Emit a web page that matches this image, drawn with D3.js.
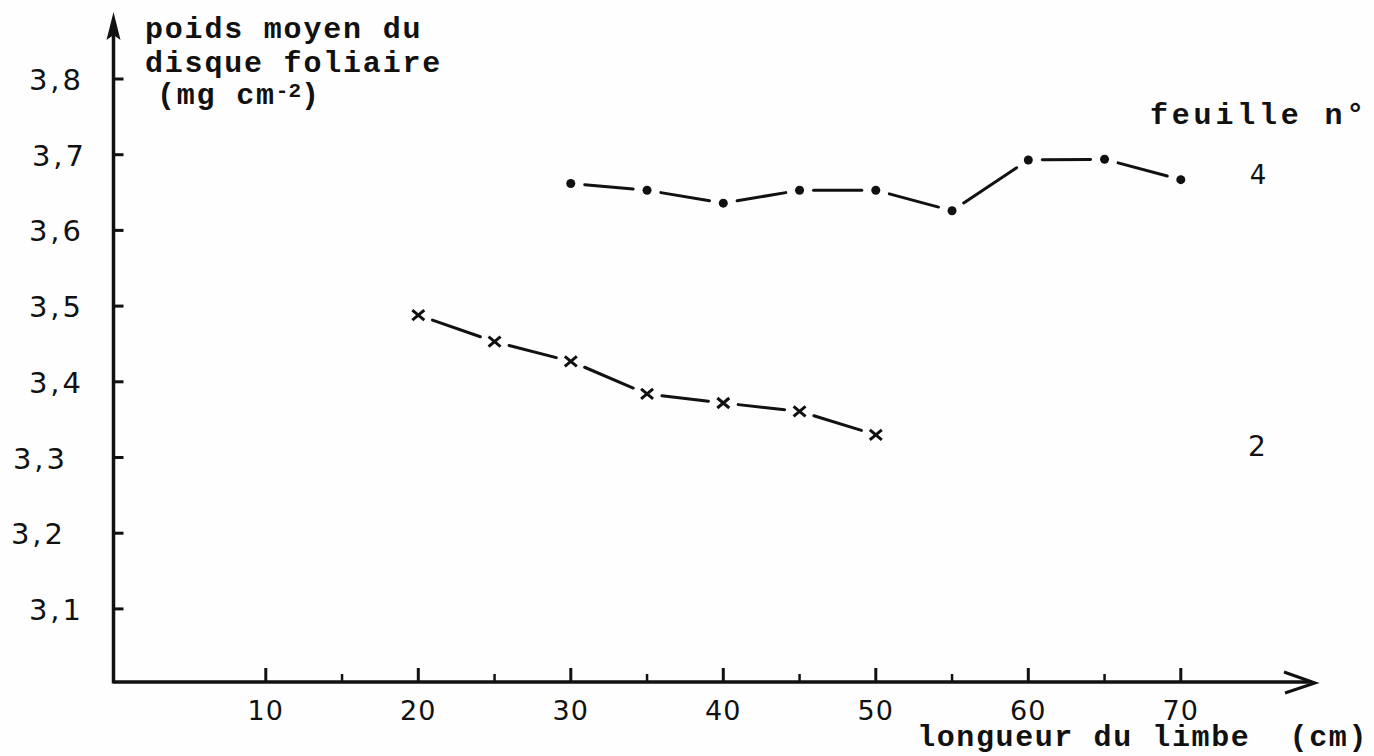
<!DOCTYPE html>
<html>
<head>
<meta charset="utf-8">
<script src="https://cdn.jsdelivr.net/npm/d3@7"></script>
<style>
  body { margin: 0; background: #fefefe; }
  svg { display: block; }
</style>
</head>
<body>
<div id="chart"></div>
<script>
// values (leaf 4 = dots, leaf 2 = crosses)
const lengths4 = [30, 35, 40, 45, 50, 55, 60, 65, 70];
const weights4 = [3.662, 3.653, 3.636, 3.653, 3.653, 3.626, 3.693, 3.694, 3.667];
const lengths2 = [20, 25, 30, 35, 40, 45, 50];
const weights2 = [3.488, 3.453, 3.427, 3.384, 3.372, 3.361, 3.330];

const yTicks = [3.1, 3.2, 3.3, 3.4, 3.5, 3.6, 3.7, 3.8];
const yTickLabels = ["3,1", "3,2", "3,3", "3,4", "3,5", "3,6", "3,7", "3,8"];
const xTicks = [10, 20, 30, 40, 50, 60, 70];
const xMinorTicks = [15, 25, 35, 45, 55, 65];

const W = 1374, H = 756;
const ink = "#111";
const mono = "'Liberation Mono', 'DejaVu Sans Mono', monospace";
const hand = "'DejaVu Sans', sans-serif";

const svg = d3.select("#chart").append("svg")
    .attr("width", W)
    .attr("height", H);

const x = d3.scaleLinear().domain([0, 80]).range([113.3, 1333.3]);
const y = d3.scaleLinear().domain([3.0, 3.8]).range([684.6, 79]);

const x0 = 113.5, yAxis = 682;

// axes lines
svg.append("line")
   .attr("x1", x0).attr("y1", yAxis).attr("x2", 1312).attr("y2", yAxis)
   .attr("stroke", ink).attr("stroke-width", 3.5);
svg.append("line")
   .attr("x1", x0).attr("y1", yAxis + 1.5).attr("x2", x0).attr("y2", 30)
   .attr("stroke", ink).attr("stroke-width", 3.5);

// arrow heads
svg.append("path")
   .attr("d", `M${x0},12 L${x0 + 7},40 L${x0},35 L${x0 - 7},40 Z`)
   .attr("fill", ink);
svg.append("path")
   .attr("d", `M1284,672 L1315,${yAxis + 1} L1285,693`)
   .attr("fill", "none").attr("stroke", ink).attr("stroke-width", 3);

// y ticks (pointing inside)
const yNudge = { "3,3": -16, "3,2": -18, "3,7": 3 };
svg.selectAll(".ytick").data(yTicks).join("line")
   .attr("x1", x0).attr("x2", x0 + 10)
   .attr("y1", d => y(d)).attr("y2", d => y(d))
   .attr("stroke", ink).attr("stroke-width", 3);
svg.selectAll(".ylab").data(yTicks).join("text")
   .attr("x", (d, i) => 84 + (yNudge[yTickLabels[i]] || 0))
   .attr("y", d => y(d) + 11)
   .attr("text-anchor", "end")
   .style("font-family", hand)
   .style("font-size", "29px")
   .style("letter-spacing", "3px")
   .attr("fill", ink)
   .text((d, i) => yTickLabels[i]);

// x ticks
svg.selectAll(".xtick").data(xTicks).join("line")
   .attr("x1", d => x(d)).attr("x2", d => x(d))
   .attr("y1", yAxis).attr("y2", yAxis - 14)
   .attr("stroke", ink).attr("stroke-width", 3);
svg.selectAll(".xminor").data(xMinorTicks).join("line")
   .attr("x1", d => x(d)).attr("x2", d => x(d))
   .attr("y1", yAxis).attr("y2", yAxis - 8)
   .attr("stroke", ink).attr("stroke-width", 2.5);
svg.selectAll(".xlab").data(xTicks).join("text")
   .attr("x", d => x(d))
   .attr("y", 720)
   .attr("text-anchor", "middle")
   .style("font-family", hand)
   .style("font-size", "27px")
   .style("letter-spacing", "1px")
   .attr("fill", ink)
   .text(d => d);

// axis titles
const title = svg.append("g")
   .style("font-family", mono)
   .style("font-weight", "bold")
   .style("font-size", "30px")
   .style("letter-spacing", "1.8px")
   .attr("fill", ink);
title.append("text").attr("x", 145).attr("y", 38).text("poids moyen du");
title.append("text").attr("x", 145).attr("y", 72).text("disque foliaire");
const unit = title.append("text").attr("x", 157).attr("y", 104);
unit.append("tspan").text("(mg cm");
unit.append("tspan").attr("dy", -7).style("font-size", "21px").style("letter-spacing", "0px").text("-2");
unit.append("tspan").attr("dy", 7).text(")");

title.append("text").attr("x", 1368).attr("y", 746)
   .attr("text-anchor", "end")
   .style("white-space", "pre")
   .style("letter-spacing", "1.6px")
   .text("longueur du limbe  (cm)");
title.append("text").attr("x", 1368).attr("y", 124)
   .attr("text-anchor", "end")
   .style("letter-spacing", "3.8px")
   .text("feuille n°");

// series labels
svg.append("text").attr("x", 1258).attr("y", 184)
   .attr("text-anchor", "middle")
   .style("font-family", hand).style("font-size", "26px").attr("fill", ink)
   .text("4");
svg.append("text").attr("x", 1257).attr("y", 456)
   .attr("text-anchor", "middle")
   .style("font-family", hand).style("font-size", "28px").attr("fill", ink)
   .text("2");

// broken connecting segments, leaving a gap around each marker
function drawSeries(xs, ys, marker, gap) {
    const pts = xs.map((v, i) => [x(v), y(ys[i])]);
    const segs = d3.pairs(pts).map(([p, q]) => {
        const dx = q[0] - p[0], dy = q[1] - p[1];
        const len = Math.hypot(dx, dy);
        const ux = dx / len, uy = dy / len;
        return [p[0] + ux * gap, p[1] + uy * gap, q[0] - ux * gap, q[1] - uy * gap];
    });
    const g = svg.append("g");
    g.selectAll("line").data(segs).join("line")
     .attr("x1", d => d[0]).attr("y1", d => d[1])
     .attr("x2", d => d[2]).attr("y2", d => d[3])
     .attr("stroke", ink).attr("stroke-width", 3)
     .attr("stroke-linecap", "round");
    if (marker === "dot") {
        g.selectAll("circle").data(pts).join("circle")
         .attr("cx", d => d[0]).attr("cy", d => d[1])
         .attr("r", 4.5).attr("fill", ink);
    } else {
        g.selectAll("path.cross").data(pts).join("path")
         .attr("class", "cross")
         .attr("d", d => `M${d[0] - 6},${d[1] - 5} L${d[0] + 6},${d[1] + 5} M${d[0] - 6},${d[1] + 5} L${d[0] + 6},${d[1] - 5}`)
         .attr("stroke", ink).attr("stroke-width", 3).attr("fill", "none");
    }
}

drawSeries(lengths4, weights4, "dot", 14);
drawSeries(lengths2, weights2, "cross", 15);
</script>
</body>
</html>
